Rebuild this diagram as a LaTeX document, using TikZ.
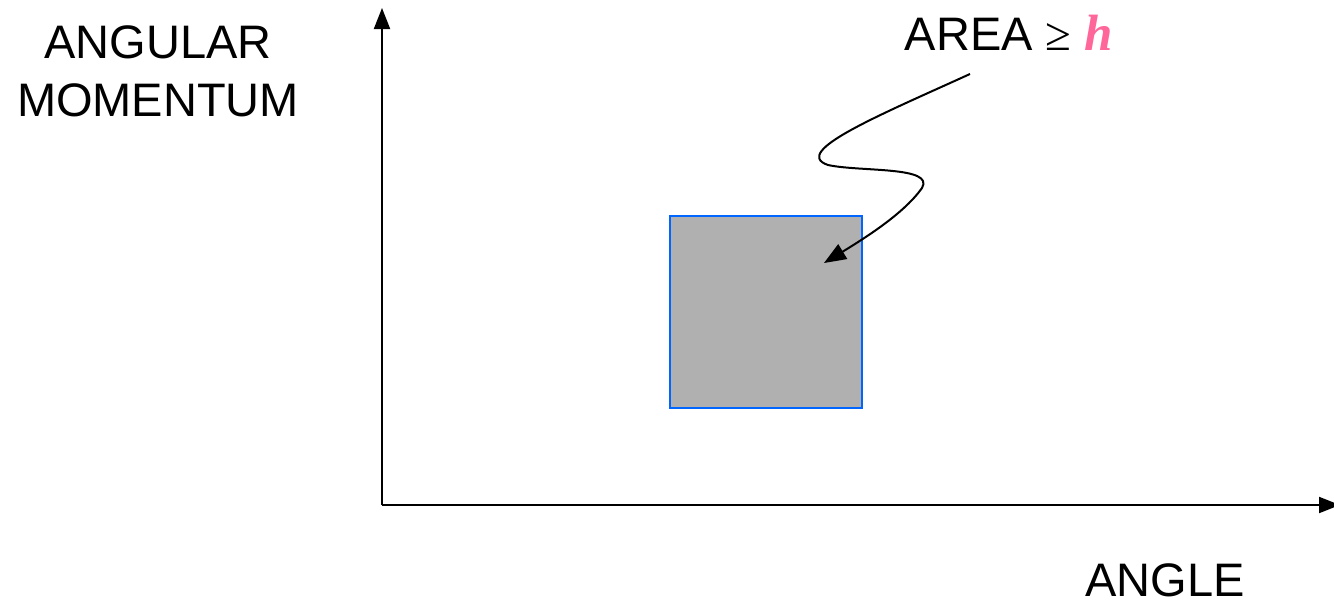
\documentclass[tikz,border=0pt]{standalone}
\usepackage{fontspec}
\setmainfont{Liberation Sans}
\newfontfamily\serifbi{Liberation Serif}
\usetikzlibrary{arrows.meta}
\definecolor{boxblue}{HTML}{0066FF}
\definecolor{boxgray}{HTML}{B0B0B0}
\definecolor{hpink}{HTML}{FF6699}
\tikzset{
  lbl/.style={font=\fontsize{47}{56}\selectfont, inner sep=0pt, anchor=base},
  axis/.style={line width=2pt, -{Triangle[length=21pt,width=16pt]}},
  areabox/.style={draw=boxblue, fill=boxgray, line width=2.2pt, minimum width=192pt, minimum height=192pt, inner sep=0pt},
  pointer/.style={line width=2pt, -{Triangle[length=22pt,width=17pt]}}
}
\begin{document}
\begin{tikzpicture}[x=1pt,y=-1pt]
\useasboundingbox (0,0) rectangle (1334,605);
\coordinate (o) at (382,505);
\coordinate (ytop) at (382,8);
\coordinate (xend) at (1340,505);
\begin{scope}
\clip (0,0) rectangle (1334,605);
\draw[axis] (o) -- (ytop);
\draw[axis] (o) -- (xend);
\end{scope}
\node[lbl] (ang1) at (158,58) {ANGULAR};
\node[lbl] (ang2) at (158,116) {MOMENTUM};
\node[lbl] (angle) at (1165,596) {ANGLE};
\node[lbl] (area) at (1009,50) {AREA {\serifbi ≥} {\fontsize{51}{56}\selectfont\serifbi\bfseries\itshape\color{hpink}h}};
\node[areabox] (sq) at (766,312) {};
\coordinate (cstart) at (970,74);
\coordinate (ctip) at (824,263);
\draw[pointer] (cstart) .. controls (880,115) and (790,152) .. (828,165)
  .. controls (860,172) and (935,166) .. (922,188)
  .. controls (905,212) and (870,235) .. (ctip);
\end{tikzpicture}
\end{document}
